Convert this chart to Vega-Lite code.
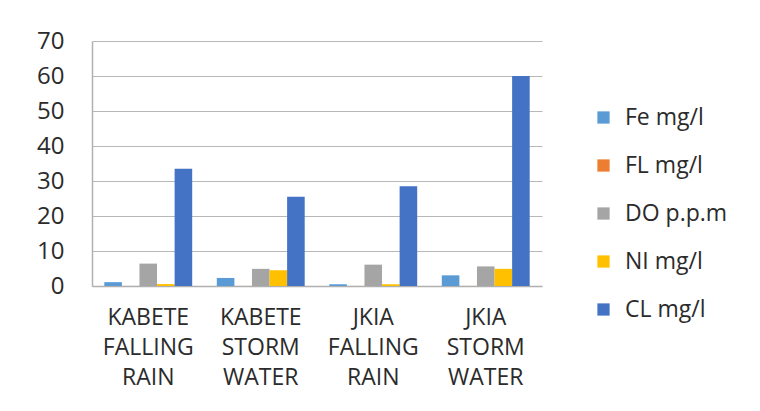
{
  "$schema": "https://vega.github.io/schema/vega-lite/v6.json",
  "autosize": {"type": "none"},
  "width": 450,
  "height": 245,
  "padding": {"left": 92, "top": 41, "right": 218, "bottom": 125},
  "background": "white",
  "config": {
    "font": "Open Sans",
    "view": {"stroke": null},
    "axis": {"labelColor": "#2b2b2b", "labelFont": "Open Sans"},
    "legend": {"labelFont": "Open Sans"}
  },
  "data": {
    "values": [
      {"site": "KABETE FALLING RAIN", "param": "Fe mg/l", "value": 1.1},
      {"site": "KABETE FALLING RAIN", "param": "FL mg/l", "value": 0.02},
      {"site": "KABETE FALLING RAIN", "param": "DO p.p.m", "value": 6.4},
      {"site": "KABETE FALLING RAIN", "param": "NI mg/l", "value": 0.55},
      {"site": "KABETE FALLING RAIN", "param": "CL mg/l", "value": 33.5},
      {"site": "KABETE STORM WATER", "param": "Fe mg/l", "value": 2.3},
      {"site": "KABETE STORM WATER", "param": "FL mg/l", "value": 0.02},
      {"site": "KABETE STORM WATER", "param": "DO p.p.m", "value": 4.9},
      {"site": "KABETE STORM WATER", "param": "NI mg/l", "value": 4.5},
      {"site": "KABETE STORM WATER", "param": "CL mg/l", "value": 25.5},
      {"site": "JKIA FALLING RAIN", "param": "Fe mg/l", "value": 0.5},
      {"site": "JKIA FALLING RAIN", "param": "FL mg/l", "value": 0.02},
      {"site": "JKIA FALLING RAIN", "param": "DO p.p.m", "value": 6.1},
      {"site": "JKIA FALLING RAIN", "param": "NI mg/l", "value": 0.5},
      {"site": "JKIA FALLING RAIN", "param": "CL mg/l", "value": 28.5},
      {"site": "JKIA STORM WATER", "param": "Fe mg/l", "value": 3.05},
      {"site": "JKIA STORM WATER", "param": "FL mg/l", "value": 0.02},
      {"site": "JKIA STORM WATER", "param": "DO p.p.m", "value": 5.6},
      {"site": "JKIA STORM WATER", "param": "NI mg/l", "value": 4.9},
      {"site": "JKIA STORM WATER", "param": "CL mg/l", "value": 60}
    ]
  },
  "mark": {"type": "bar"},
  "encoding": {
    "x": {
      "field": "site",
      "type": "nominal",
      "sort": ["KABETE FALLING RAIN", "KABETE STORM WATER", "JKIA FALLING RAIN", "JKIA STORM WATER"],
      "scale": {"paddingInner": 0, "paddingOuter": 0},
      "axis": {
        "title": null,
        "labelAngle": 0,
        "labelExpr": "split(datum.label, ' ')",
        "labelFontSize": 23,
        "labelLineHeight": 30,
        "labelPadding": 20,
        "labelBaseline": "top",
        "labelLimit": 200,
        "ticks": false,
        "domainColor": "#B0B0B0",
        "domainWidth": 1.5
      }
    },
    "xOffset": {
      "field": "param",
      "type": "nominal",
      "sort": ["Fe mg/l", "FL mg/l", "DO p.p.m", "NI mg/l", "CL mg/l"],
      "scale": {"paddingInner": 0, "paddingOuter": 0.7}
    },
    "y": {
      "field": "value",
      "type": "quantitative",
      "scale": {"domain": [0, 70], "nice": false},
      "axis": {
        "title": null,
        "values": [0, 10, 20, 30, 40, 50, 60, 70],
        "labelFontSize": 24,
        "labelPadding": 28,
        "ticks": false,
        "gridColor": "#B8B8B8",
        "gridWidth": 1,
        "domainColor": "#B0B0B0",
        "domainWidth": 1.5
      }
    },
    "color": {
      "field": "param",
      "type": "nominal",
      "sort": ["Fe mg/l", "FL mg/l", "DO p.p.m", "NI mg/l", "CL mg/l"],
      "scale": {
        "domain": ["Fe mg/l", "FL mg/l", "DO p.p.m", "NI mg/l", "CL mg/l"],
        "range": ["#5B9BD5", "#ED7D31", "#A5A5A5", "#FFC000", "#4472C4"]
      },
      "legend": {
        "title": null,
        "orient": "none",
        "legendX": 500,
        "legendY": 65,
        "symbolType": "square",
        "symbolSize": 150,
        "symbolStrokeWidth": 0,
        "labelFontSize": 23,
        "labelColor": "#2b2b2b",
        "labelOffset": 10,
        "labelLimit": 250,
        "rowPadding": 24
      }
    }
  }
}
